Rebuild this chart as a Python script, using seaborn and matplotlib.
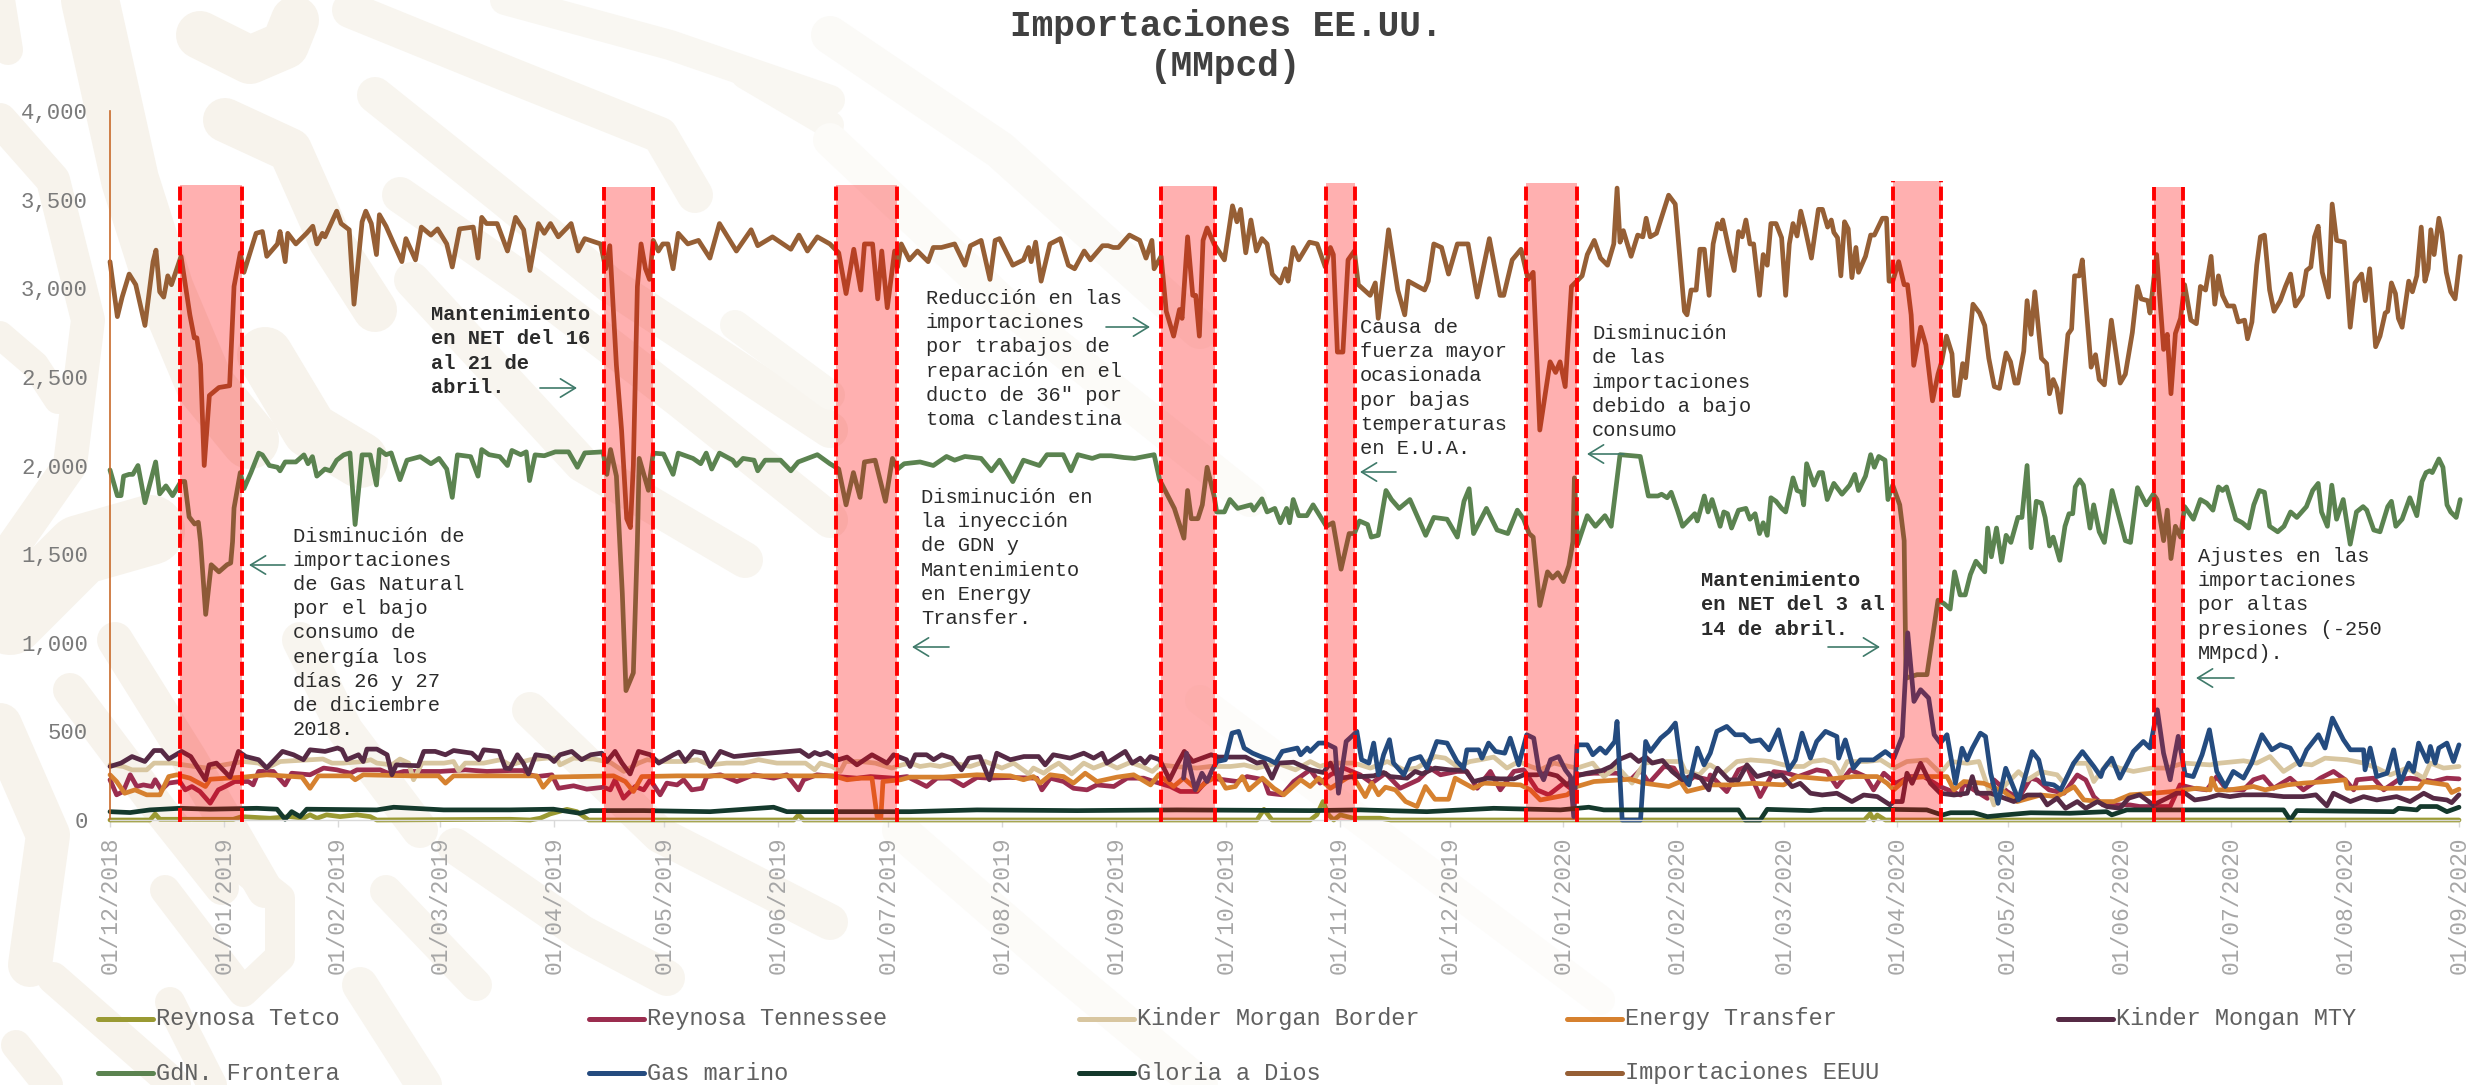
import matplotlib
matplotlib.use('Agg')
import numpy as np
import pandas as pd
import matplotlib.pyplot as plt
import seaborn as sns
from matplotlib.lines import Line2D

W, H = 2473, 1085
START = pd.Timestamp('2018-12-01')

# (days since 01/12/2018, MMpcd)
imports = [(0,3150),(2,2840),(3.3,2950),(5.2,3080),(7,3020),(9.5,2790),(11.7,3150),(12.5,3215),(13.5,2980),(14.6,2950),(15.7,3070),(16.7,3020),(19.3,3180),(21.7,2850),(22.9,2720),(23.6,2720),(24.6,2570),(25.6,2000),(27,2395),(29.6,2440),(32.5,2450),(33.7,3010),(35.4,3200),(36.4,3090),(39.7,3310),(41.4,3320),(42.6,3180),(45.5,3250),(46.2,3320),(47.6,3150),(48.3,3310),(50.5,3250),(53.4,3310),(55.1,3350),(56.2,3250),(57.7,3310),(58.4,3290),(61.6,3435),(62.8,3365),(65,3330),(66.3,2910),(68.5,3375),(69.5,3435),(71,3365),(72.4,3190),(73.2,3415),(75,3350),(76.7,3270),(79.3,3150),(80.4,3280),(83,3160),(84.6,3345),(87.2,3300),(89,3335),(91.5,3250),(93,3120),(95,3335),(98.7,3345),(100,3170),(101,3400),(102.3,3365),(105.2,3365),(108,3210),(110.2,3400),(112.4,3330),(114.1,3100),(116.4,3365),(118,3310),(119.7,3365),(121.8,3290),(125.3,3365),(127.2,3210),(129,3280),(133.3,3250),(134.7,3110),(135.8,3240),(137.6,2565),(139,2200),(140.4,1700),(141.4,1650),(142.2,2000),(143.3,3010),(144.3,3250),(145.5,3110),(146.6,3050),(147.6,3270),(149,3210),(150.2,3250),(151.6,3250),(153,3110),(154.4,3310),(157,3250),(159.9,3270),(163,3170),(165.6,3365),(170.2,3210),(174.2,3330),(176,3240),(180,3290),(185,3220),(187.2,3300),(189.5,3210),(192.2,3290),(195.6,3250),
           (198,3200),(200,2970),(202.1,3220),(204,2990),(205,3250),(207.2,3250),(208.6,2940),(209.7,3210),(211.2,2890),(213.2,3210),(214,3120),(215,3250),(217.2,3160),(219.4,3210),(222.3,3150),(223.7,3230),(225.9,3230),(229.5,3250),(232.3,3130),(233.8,3240),(236.7,3270),(239.1,3050),(240.5,3270),(241.7,3280),(245.3,3130),(248.2,3160),(249.6,3230),(250.3,3150),(251.5,3260),(253,3040),(255.4,3250),(258.2,3280),(260.4,3130),(262.1,3110),(264.7,3210),(266.4,3160),(269.7,3240),(271.2,3240),(272.6,3230),(274,3230),(277,3300),(279.8,3270),(281.5,3170),(283.1,3270),(283.7,3110),(285.6,3180),(287,2870),(289,2730),(290.6,2880),(291.3,2830),(292.8,3290),(294.2,2960),(295,2960),(296,2730),(297,3270),(298.1,3340),(300,3250),(302.8,3160),(305,3465),(306.2,3375),(307.2,3445),(308.6,3200),(310,3385),(311.5,3210),(313,3280),(314.4,3250),(315.8,3080),(318,3030),(319.4,3110),(320.1,3040),(321.5,3230),(323,3160),(325.9,3260),(328,3250),(330.2,3120),(331.6,3230),(332.4,3190),(333.5,2640),(335,2640),(336.4,3160),(338.1,3210),(339.2,3020),(342.4,2960),(343.8,3030),(344.6,2830),(347.4,3330),(349.9,2990),(351.8,2850),(352.8,3040),(355.4,3010),(357.2,2990),(358.2,3040),(359.7,3250),(361.8,3230),(363.7,3080),(366.1,3250),(369,3250),(371.5,2950),(374.8,3280),(377.7,2960),(378.7,2960),(381,3160),(383.4,3220),(385.3,3050),(386.7,3090),(388.5,2200),(391.3,2585),(392.8,2525),(394,2585),(395.4,2445),(397.1,3010),(400,3070),(401.4,3190),(403.3,3270),(405,3170),(406.9,3130),(408.6,3250),(409.5,3565),(410.3,3260),(411.2,3325),(413.3,3180),(415.1,3300),(416.5,3290),(417.4,3395),
           (418.5,3290),(420.2,3310),(423.5,3525),(425.3,3475),(427.8,2870),(428.5,2850),(429.6,2990),(431,2990),(432,3220),(433.2,3220),(434.5,2960),(435.6,3250),(436.8,3365),(437.8,3335),(438.2,3385),(440,3210),(441.3,3100),(442.5,3320),(443.5,3290),(444.5,3385),(445.6,3250),(446.6,3250),(448.2,2960),(449.2,3190),(450.3,3130),(451.3,3365),(452.7,3365),(454.2,3285),(455.3,2960),(456.3,3250),(457.3,3365),(458.4,3295),(459.4,3435),(460.6,3335),(462.3,3170),(464.2,3445),(465.3,3445),(466.7,3345),(467.7,3385),(468.4,3315),(469.4,3285),(470.3,3070),(471.3,3375),(472.3,3335),(473.3,3060),(474.4,3230),(475.1,3090),(477,3180),(478.4,3300),(479.4,3300),(481.6,3395),(482.7,3395),(483.4,3040),(484.4,3040),(486,3150),(487.5,3020),(488.4,3020),(489.4,2850),(490.1,2565),(492,2780),(493.4,2680),(495.2,2365),(496.7,2515),(497.7,2585),(499,2730),(500.5,2630),(501.2,2395),(502.2,2395),(503.4,2575),(504.2,2495),(506.2,2910),(508,2860),(509.4,2790),(510.5,2605),(512,2445),(513.4,2435),(515.2,2635),(516.4,2585),(517.6,2465),(518.4,2465),(520,2645),(520.9,2930),(522,2740),(523,2980),(524.8,2605),(526.2,2575),(527,2405),(528,2485),(529,2435),(530,2300),(532,2740),(533,2770),(533.8,3070),(535.1,3070),(535.9,3160),(538.3,2555),(539.5,2625),(540.5,2485),(541.9,2455),(543.8,2820),(546.2,2465),(547.6,2515),(549.5,2750),(550.9,3010),(551.9,2940),(553.7,2930),(554.3,2860),(556.1,3190),(558,2655),(559,2740),(560,2405),(561.2,2745),(562.6,2830),(563.7,3020),(565.4,2820),(566.9,2800),(568,3010),(569.4,2990),(570.9,3180),(571.9,2910),(572.9,3070),(574,2960),(575.4,2900),(577.1,2900),(578.3,2810),(580,2820),(580.8,2715),(582,2810),(583.3,3130),(584.3,3290),(585.4,3300),(586.8,2990),(588,2870),(589.7,2930),(591.1,3010),(592.5,3080),(593.8,2900),(595.7,2960),(596.8,3100),(598,3120),(599,3290),(600,3350),(601.1,3090),(602.8,2950),(603.8,3475),(605,3270),(607.1,3260),(608.7,2780),(610,3030),(611.8,3080),(612.8,2930),(614,3110),(615.6,2670),(616.8,2730),(618.2,2860),(618.9,2870),(619.9,3030),(621,2970),(621.8,2830),(622.8,2780),(624.6,3040),(625.6,2980),(626.8,3070),(628,3345),(629,3040),(629.9,3110),(630.6,3330),(631.5,3190),(632.8,3395),(633.6,3315),(634.8,3090),(636,2980),(637.2,2940),(638.6,3180)]

frontera = [(0,1975),(2,1830),(3,1830),(3.7,1940),(5.2,1950),(6.2,1950),(7.6,2000),(9.5,1790),(12.4,2020),(13.5,1840),(15.2,1885),(17,1830),(19.3,1910),(20.3,1910),(21.5,1710),(23,1670),(24,1680),(24.6,1570),(26,1160),(27.5,1440),(29.6,1400),(31.8,1440),(32.8,1450),(33.3,1570),(33.7,1760),(35.4,1960),(36.4,1870),(38.3,1960),(40.4,2070),(41.4,2060),(43.3,2000),(45.5,1990),(46.2,1970),(47.6,2020),(50.5,2020),(52.7,2060),(53.8,2010),(55,2050),(56.2,1940),(58.4,1980),(59.9,1970),(61.6,2030),(63.5,2060),(65.2,2071),(66.6,1667),(68.5,2060),(70.7,2060),(72.4,1890),(73.2,2090),(75,2061),(76.4,2071),(78.8,1920),(80.7,2030),(84.3,2050),(87.2,2010),(89.4,2040),(91.5,1980),(93,1820),(94.4,2060),(98,2050),(100,1940),(101,2090),(103,2061),(105.9,2050),(108,2000),(109.2,2085),(111.6,2061),(113.1,2077),(114,1915),(115.5,2060),(118,2055),(121,2077),(124.6,2077),(127,1990),(129,2071),(134,2077),(135,1950),(136,2090),(137.6,1940),(139.2,1280),(140.2,730),(142.2,830),(143.3,1570),(143.8,2040),(146.3,1860),(147.6,2070),(150.4,2065),(153,1950),(154.4,2070),(158.4,2040),(160.5,2010),(162,2070),(163.5,1980),(165.6,2070),(169.2,2030),(170.2,2000),(172,2040),(175,2030),(176,1970),(178,2030),(182.2,2030),(185,1970),(187,2020),(192.2,2061),(195.6,2010),
            (198,1980),(200,1778),(202,1960),(203.8,1820),(205,2020),(207.9,2030),(210.7,1798),(212.6,2040),(214,1980),(215.8,2010),(220.1,2020),(223.7,2000),(227.3,2051),(229.5,2030),(232.3,2051),(236.7,2040),(239.5,1970),(241.7,2030),(245.3,1909),(248.2,2030),(252.5,2000),(254.6,2061),(259,2061),(261.1,1970),(263,2061),(266.9,2040),(269,2055),(272,2055),(275.5,2045),(278.4,2040),(283.7,2061),(285.2,1919),(289.2,1758),(291.8,1590),(292.8,1859),(293.8,1700),(295.6,1700),(296.8,1778),(298.1,1990),(300,1828),(300.7,1738),(302.8,1738),(304.3,1808),(306.4,1758),(310,1778),(310.8,1748),(313,1812),(314.4,1738),(316.5,1758),(318,1677),(319.7,1758),(320.5,1677),(321.5,1808),(323,1717),(325.2,1717),(326.9,1778),(328.7,1717),(330.5,1657),(332.3,1677),(334.5,1415),(336.7,1616),(338.1,1616),(339.5,1687),(341.7,1667),(342.7,1596),(344.6,1606),(346.7,1859),(348.2,1808),(350.3,1758),(353.2,1808),(357.5,1606),(359.7,1707),(363.3,1697),(366.1,1596),(367.9,1798),(369.3,1869),(370.5,1616),(374,1758),(376.9,1636),(379.8,1616),(382.4,1748),(384.1,1697),(385.6,1616),(386.7,1596),(388.5,1210),(390.6,1400),(392,1365),(393.4,1395),(394.9,1345),(396.4,1435),(397.5,1570),(397.9,1930),(398.8,1556),(401.4,1717),(403.6,1657),(406.2,1717),(407.9,1657),(410.3,2061),(415.8,2051),(418,1828),(420.6,1828),
            (421.6,1838),(423.1,1818),(424.2,1849),(425.9,1748),(427.3,1657),(430.6,1728),(431.3,1687),(433.2,1828),(434.2,1738),(435.3,1808),(437.5,1657),(438.5,1738),(439.5,1728),(440.6,1647),(442.5,1748),(444.5,1758),(445.6,1697),(447,1728),(448.2,1616),(449.2,1677),(450.3,1606),(451.3,1818),(452.7,1798),(454.2,1758),(455.3,1738),(457.3,1930),(458.4,1859),(459.6,1849),(460.2,1778),(461,2010),(463,1889),(464.4,1960),(465.3,1960),(466.6,1808),(468.4,1899),(470.6,1838),(472.7,1889),(474.1,1950),(475.1,1859),(477,1940),(478.4,2061),(479.4,1990),(480.6,2051),(482.3,2030),(483.1,1808),(484.4,1889),(486.3,1778),(487.5,1576),(488,800),(491,820),(493.7,820),(496.7,1240),(498.4,1220),(500,1190),(501.2,1400),(502.7,1270),(504.1,1270),(505.5,1385),(507,1460),(509.4,1400),(510.2,1647),(511.2,1485),(512.6,1647),(514,1455),(515.2,1606),(516.5,1566),(518.4,1707),(519.5,1707),(520.9,2000),(522,1536),(523.4,1798),(524.8,1788),(525.8,1707),(527,1546),(528,1596),(529.8,1465),(531.2,1657),(532.3,1728),(533.3,1728),(534,1879),(535.2,1919),(536.2,1889),(538,1647),(539,1778),(540.5,1626),(541.9,1566),(544,1859),(547.6,1576),(549,1566),(550.9,1875),(553.3,1778),(555.2,1838),(556.2,1808),(558,1576),(559,1748),(560,1475),(561.2,1657),(562.6,1596),(563.7,1768),(566.1,1697),(568,1808),(569.7,1788),(571.4,1748),(572.9,1879),(574,1859),(575.1,1879),(577.6,1697),(579.4,1677),(581.1,1647),(582.5,1778),(584,1859),(585.4,1849),(586.8,1657),(589,1626),(590.7,1657),(592.5,1738),(594.2,1707),(596.8,1768),(598.5,1859),(600,1899),(600.9,1738),(602.5,1657),(603.7,1889),(605,1697),(606.8,1808),(608.7,1556),(610.4,1738),(612.2,1768),(613.2,1748),(615.1,1636),(616.8,1626),(618.9,1768),(619.9,1798),(621.1,1657),(622.8,1697),(624.9,1818),(626.8,1717),(628.2,1909),(629.3,1960),(630.3,1970),(631,1960),(632.8,2037),(633.9,1990),(635,1778),(636,1738),(637.5,1707),(638.6,1808)]

kinder_mty = [(0,302),(3,321),(6,358),(9.5,330),(12,392),(14,392),(16,344),(19.5,387),(22,358),(24,293),(26,227),(27,311),(29,321),(32.7,242),(35,387),(37,358),(40.5,340),(42.7,293),(47,387),(50,368),(52.7,340),(54.5,396),(58.6,387),(62,406),(63.2,396),(64.5,340),(67.7,368),(69,330),(70,400),(72.7,400),(75.5,368),(76.8,255),(78,311),(84,306),(85.5,387),(88.6,387),(91.4,368),(93.6,392),(98.6,377),(100.5,340),(101.8,396),(106,387),(107.7,293),(109,290),(111,368),(112.6,321),(114,260),(116,368),(119.5,358),(121,330),(122.6,368),(125.8,387),(128.5,340),(131,368),(134,377),(135.4,330),(137.6,387),(139.5,321),(141.7,260),(144,387),(147.2,368),(149.5,321),(153.5,368),(155,383),(156.7,330),(159,387),(161.7,377),(163.5,302),(166.3,387),(170,358),(174.5,368),(181.7,381),(188,392),(190.4,358),(192,381),(193.5,368),(195.4,381),(198.5,340),(200.8,355),(203.5,311),(207.6,368),(211.7,321),(213.5,368),(217,340),(218,302),(219.4,368),(222.5,368),(224.4,340),(226.6,368),(229.4,349),(232,283),(234,349),(237,358),(239.6,227),(241.6,377),(245.3,340),(249,358),(253,358),(254.8,311),(257,368),(261.6,349),(265.3,377),(268,349),(270.3,377),(271.6,321),(276.6,387),(278.5,321),(280.7,349),(282,321),(283.5,358),(286,340),(288.7,227),(290.7,311),(292.7,387),(295,330),(297.5,349),(300,368),(302,355),(305.3,355),(309.4,355),(312.5,321),(314.4,330),(316.6,236),(318.4,321),(322.5,326),(327,283),(330.6,268),(332.5,321),(334.7,236),(339,245),(340.6,245),(344.3,249),(347,268),(348.8,245),(353.4,236),(355.6,274),(357.5,260),(361,293),(365,283),(369.3,279),(371.5,217),(375.2,236),(378.8,232),(382.5,232),(385.2,255),(388.8,255),(391.5,264),(394.3,249),(397,198),(399.7,249),(402.5,264),(406.5,279),(409,302),(411,340),(414.3,368),(416.5,330),(418.4,355),(420.2,321),(423,336),(425.6,274),(428.4,227),(431.5,255),(433.4,236),(435.6,170),(436,207),(438,292),(441,226),(443.7,226),(446,311),(448.7,245),(452,264),(453.7,245),(455.5,254),(458.3,188),(460.5,207),(463.3,151),(466.5,141),(470.5,151),(474.6,104),(477.8,141),(481.5,132),(485,85),(486,104),(488.3,104),(489.6,264),(491,207),(493.3,320),(496,207),(498.7,151),(502.4,141),(506,151),(507.4,245),(508.7,151),(512.4,151),(515,132),(518.7,104),(522.4,141),(526,141),(527.8,85),(530.5,123),(532.8,66),(536,104),(538.3,66),(541.5,104),(544,76),(547.6,66),(550,123),(553,142),(556.7,85),(560.4,123),(563,151),(565.4,151),(568,113),(571.3,123),(574.5,142),(577.6,132),(581,142),(587.6,142),(592.2,132),(597.6,132),(601,142),(604,80),(605.8,151),(610.4,104),(614,132),(617.6,113),(623,132),(626.7,104),(630.4,151),(633,123),(636.7,113),(638,98),(640,142)]

kinder_border = [(0,311),(3.6,302),(6,283),(10,283),(12,321),(17,321),(23,302),(26.4,293),(31,311),(36.4,330),(40.5,321),(42.7,293),(46.4,330),(58,344),(60.5,321),(63.6,321),(69,330),(71,340),(72.7,321),(76.8,311),(79,344),(81.4,321),(82.7,227),(85,321),(91,321),(93.6,330),(95,279),(96.8,321),(101.8,321),(106.4,340),(109,311),(114.5,340),(119,349),(121.7,349),(122.6,311),(126.3,349),(131.7,344),(136.3,325),(140,274),(144,321),(146.3,340),(150.8,330),(155.8,330),(160,340),(163.5,311),(168,321),(172.6,321),(176.7,340),(181.7,321),(189.5,321),(192,283),(193.5,321),(196.7,302),(199,274),(200.4,330),(204.5,330),(208.5,321),(213,293),(215.8,311),(218,321),(220.7,302),(223.5,311),(226.2,302),(229.8,321),(234.4,302),(238.5,330),(243,293),(246.2,321),(250.3,260),(251.6,293),(254.4,264),(256.2,293),(258.5,321),(262,260),(265.3,321),(268,293),(271.6,321),(274.4,293),(278,325),(281.2,302),(284,274),(286,311),(290,302),(296.2,293),(299.8,302),(305.3,302),(309,311),(312.5,293),(318,321),(323,283),(327,330),(329.7,302),(332.5,321),(338.8,321),(340.6,311),(343.4,293),(348,330),(352.5,283),(356,293),(361,358),(363.8,349),(367,302),(370.6,330),(373.4,340),(377,355),(380.6,293),(383.8,330),(387,302),(389.7,283),(393.4,321),(397.5,302),(399.7,293),(404,321),(407,245),(410.6,302),(414.7,208),(418,321),(422.5,330),(428,330),(429.2,274),(433,255),(435.6,311),(436,311),(439.6,264),(443.3,330),(447,339),(452.4,330),(456,311),(458.7,302),(461.5,302),(463.7,330),(467,339),(469.6,320),(471.5,254),(473.3,330),(478.7,330),(482.4,339),(486,292),(489.6,330),(495,339),(498.7,264),(501.4,330),(506,320),(509.2,330),(513.3,85),(516,189),(520,273),(522.4,226),(526,273),(530.5,255),(532.4,207),(535,320),(538.7,320),(540.5,217),(544.2,320),(547.6,292),(551.3,274),(556.3,293),(560.4,293),(565,321),(572.2,311),(574.9,321),(581.3,334),(584.9,321),(588.5,358),(592.2,274),(595.8,321),(599.9,311),(603.5,349),(609.5,340),(614,321),(617.6,293),(621.3,255),(625.8,293),(630.4,236),(632.2,321),(635.8,293),(640,302)]

reynosa_tenn = [(0,227),(1.8,142),(3.6,161),(5.5,255),(7.3,189),(9.1,198),(11.4,189),(12.3,227),(14,170),(15.9,208),(19,217),(20.5,170),(22.3,189),(24.5,161),(27.3,95),(29.5,170),(31.4,189),(34,217),(37.7,217),(39,198),(40.5,274),(44.5,274),(47.7,198),(49.5,264),(54.5,255),(58.2,293),(61.8,283),(65.5,264),(67.3,283),(73.6,283),(76.8,255),(80,274),(83.6,274),(90,274),(96.8,283),(102.7,274),(109,279),(112.6,279),(114.5,255),(116.3,245),(120.4,255),(122.2,179),(126.3,193),(129.9,174),(134.5,185),(136.3,170),(137.6,227),(139.9,123),(143.1,189),(145.4,170),(147.2,227),(149.9,142),(151.7,208),(154.5,198),(156.3,227),(158.5,170),(161.3,179),(162.6,245),(166.3,255),(170.8,217),(175.4,255),(180.8,236),(184.4,255),(187.6,170),(189,227),(192.6,255),(198.1,245),(203.5,236),(207.2,245),(213.5,236),(217.2,245),(222.5,189),(225.3,236),(228.9,236),(232.5,193),(236.2,240),(239.6,236),(245.3,240),(252.5,236),(253.9,170),(256.2,236),(259.8,217),(262.5,179),(266.2,170),(268.9,198),(273.5,189),(277.1,236),(281.6,236),(284.4,217),(288.9,189),(291.6,161),(296.2,161),(299.4,236),(303.5,227),(307.1,217),(309.8,245),(314.4,227),(315.7,151),(319.4,142),(322.5,217),(327,283),(329.7,208),(332.5,255),(336.1,293),(340.6,255),(343.8,208),(347.5,264),(351.5,179),(356.5,227),(359.7,293),(362.5,255),(367,274),(369.7,274),(372.5,179),(376.1,274),(378.8,170),(382.5,274),(385.2,283),(388.8,170),(392,142),(396.1,208),(397.9,179),(399.7,255),(404.3,264),(410.6,264),(414.3,227),(417,283),(419.3,208),(423.4,302),(426.1,293),(428.8,198),(431.6,245),(435.6,227),(436,254),(440.5,160),(443.7,283),(446,302),(449.6,132),(453.3,273),(457,264),(460,245),(465,283),(467.8,273),(470.5,188),(474.2,283),(478.3,245),(480.5,170),(483.3,264),(486.5,207),(490.5,245),(494.2,245),(498.7,188),(504.2,141),(505,207),(511.5,122),(513.3,226),(516.9,160),(520,122),(523.3,236),(525.1,226),(528.3,170),(532.4,151),(536,254),(538.3,226),(540.5,132),(543,85),(550.4,85),(553,76),(556.7,76),(561.3,76),(564,198),(567.6,179),(571.3,170),(574,245),(576.7,170),(581.3,170),(584,227),(586.7,245),(589.5,179),(594,236),(597.6,170),(602.2,236),(605.8,274),(609,227),(611.3,170),(612.2,227),(616.7,236),(619.5,170),(623.5,227),(626.7,236),(630.4,227),(633,217),(636.7,236),(640,232)]

energy_transfer = [(0,255),(1.8,217),(4,151),(6.8,170),(10,142),(13.6,142),(16,245),(18.2,255),(21.8,236),(26,189),(27.3,230),(36.4,242),(42.7,255),(52.3,242),(54.5,179),(56.8,249),(65.5,249),(66.8,227),(69,255),(81.8,249),(89.5,249),(91.4,208),(93.6,249),(109,249),(116.3,249),(118,185),(120.4,242),(137.2,249),(140.4,217),(142.6,161),(144.9,245),(154.5,249),(172.6,249),(190.8,249),(197.2,249),(200.8,227),(204.5,236),(207.6,236),(209,19),(210,4),(210.6,217),(215.4,227),(218,242),(227,242),(236.2,255),(245.3,249),(248.9,227),(251.6,245),(253.5,208),(256.2,255),(259.8,245),(262.5,208),(265.7,264),(268.9,217),(274.4,242),(278.9,255),(283.5,198),(285.7,255),(289.8,189),(292.5,236),(296.2,170),(298.9,217),(302,249),(304,179),(306.6,189),(308.5,245),(310.3,170),(314,236),(317.1,179),(319.8,142),(324.4,227),(327,189),(329.3,236),(332.5,179),(338.4,255),(342,132),(343.8,208),(345.6,142),(347.5,185),(350.2,170),(353,104),(356.1,76),(358.4,189),(361,117),(364.7,117),(366.5,236),(371.5,179),(374.3,208),(384.3,198),(387,170),(389.7,113),(397,142),(399.7,189),(404.3,217),(414.3,230),(417.9,208),(424.7,189),(427.9,217),(429.7,161),(435.2,189),(436,198),(441.5,198),(447.8,207),(456,198),(459.6,245),(467.8,230),(475.1,245),(481.5,245),(484.2,207),(486,170),(489.6,236),(495,245),(500.5,245),(502.4,170),(505.1,217),(510.5,207),(516,160),(519.6,104),(526,141),(530.5,132),(535.1,188),(537.8,113),(542.3,104),(546,104),(550.4,142),(556.7,151),(562.2,161),(568.5,179),(572.2,170),(572.6,236),(574,170),(577.6,170),(584,189),(587.2,170),(593.1,198),(597.6,208),(604,217),(609,227),(609.5,179),(617.6,185),(619,179),(629,179),(630.4,217),(636.7,198),(638,155),(640,174)]

gas_marino = [(292.5,236),(293.3,377),(295.7,170),(297.5,264),(298.9,217),(300.3,283),(301.6,330),(303.9,340),(305.7,490),(307.5,500),(309,406),(311.3,377),(313.5,358),(315.8,340),(317.5,321),(319.4,387),(323.5,406),(324.4,368),(326.2,406),(327,387),(329.3,434),(331.1,434),(333.8,406),(334.7,151),(336.8,443),(338.8,481),(339.7,500),(341,340),(343,321),(344.3,434),(345.6,255),(347,368),(348.6,453),(349.7,321),(352.5,255),(354.3,340),(357,358),(358.8,293),(361.5,443),(364.3,434),(367,330),(368.8,293),(369.7,396),(372.9,396),(373.8,349),(375.6,434),(377.5,387),(380,377),(381.5,462),(383.8,311),(386,481),(387.9,462),(389.3,283),(390.6,227),(392.5,340),(394.7,358),(396.5,283),(397.9,245),(398.8,19),(399.7,424),(402.5,424),(404,368),(406,406),(407.5,377),(410,443),(410.6,556),(412,0),(417,0),(418.4,443),(419.7,387),(422.5,462),(424.7,500),(426.5,547),(428.4,255),(430.2,198),(432.5,406),(434.3,311),(436,377),(437.8,500),(440.5,528),(442.8,481),(445.1,481),(447,443),(449.6,452),(452,396),(454.6,509),(457.4,283),(459.2,339),(461,490),(463.3,349),(465,443),(467.4,500),(470.5,471),(471,349),(472.8,452),(475,292),(476.9,339),(480.5,339),(483.7,386),(486,349),(488.3,471),(489.8,1056),(491.5,669),(493.3,735),(495.5,688),(497,481),(498.7,434),(500.5,481),(502.8,207),(504.6,405),(506,339),(507.4,405),(509.6,490),(511,471),(512.4,264),(514.4,94),(516.5,292),(520,113),(523.7,386),(525.5,339),(527,207),(529.6,198),(531.5,170),(533.7,264),(535,320),(537.4,386),(540.5,302),(542.4,245),(543,283),(545.4,349),(547.6,236),(551.3,387),(554,443),(555.8,406),(557.8,622),(559.5,377),(561.3,227),(563.5,472),(565.4,255),(567.6,245),(570,368),(572,509),(574,274),(576.3,189),(578.5,274),(581.3,236),(583.5,321),(586.3,481),(589,396),(591.3,425),(594,406),(596.7,311),(598.5,396),(601.7,481),(603.5,406),(605.5,575),(608.5,453),(610.4,396),(614,396),(614.4,283),(615.8,406),(617.6,245),(620.4,264),(622.2,396),(624,208),(626.3,321),(627.6,274),(629,434),(631.3,330),(632.2,415),(633.5,321),(634.5,406),(636.7,434),(638.5,330),(640,424)]

gloria = [(0,47),(5.5,42),(10.9,57),(19,66),(27.3,61),(40,66),(45.5,61),(47.7,4),(49.5,47),(51.8,19),(53.6,61),(72.7,57),(77.3,72),(90.9,57),(109,57),(120.8,61),(128,38),(130.8,53),(145.4,53),(163.5,47),(180.8,72),(184.4,47),(218,47),(236.2,57),(263.5,53),(290.7,57),(327,53),(340.6,57),(358.8,47),(377,66),(395.2,57),(402.9,72),(407,57),(436,57),(443.7,57),(445.5,0),(449.6,0),(451.5,60),(463.3,53),(466.9,60),(485.5,60),(495,57),(499.2,28),(501.5,41),(507.8,41),(511.5,19),(516,28),(523.3,41),(534,38),(544,47),(545.4,29),(549.5,57),(592.2,57),(594,0),(595.8,53),(622.2,47),(623.5,66),(628.5,57),(629.5,76),(634,76),(636.7,47),(640,72)]

reynosa_tetco = [(0,0),(10.9,0),(12.3,34),(13.6,4),(33.6,4),(35.9,19),(43.6,10),(49,19),(52.7,10),(54.5,29),(56.4,10),(59,29),(62.7,19),(67.3,29),(70.9,19),(72.7,0),(109,4),(114.5,0),(117.2,10),(119.9,34),(124.5,60),(127.2,47),(130.4,0),(186.3,0),(187.6,29),(189,0),(218,0),(312.5,0),(314.4,60),(316.6,0),(327,0),(328.8,29),(330.5,104),(332,29),(333.4,0),(335.2,29),(338.8,10),(346.1,10),(349,0),(478,0),(479.6,36),(480.5,0),(481.5,28),(483.7,0),(640,0)]

series_names = ['Reynosa Tetco', 'Reynosa Tennessee', 'Kinder Morgan Border', 'Energy Transfer', 'Kinder Mongan MTY',
                'GdN. Frontera', 'Gas marino', 'Gloria a Dios', 'Importaciones EEUU']
series_data = [reynosa_tetco, reynosa_tenn, kinder_border, energy_transfer, kinder_mty,
               frontera, gas_marino, gloria, imports]
series_colors = ['#9a9a33', '#9b2d4f', '#d8c6a0', '#d6812f', '#562a45', '#5b8350', '#244b7f', '#14392c', '#965f35']

band_start = [19.1, 134.7, 197.9, 286.4, 331.3, 385.7, 485.8, 557.0]
band_end = [36.0, 147.9, 214.5, 301.1, 339.1, 399.7, 498.9, 564.9]
band_top = [3582, 3571, 3582, 3577, 3594, 3594, 3605, 3571]

y_ticks = [0, 500, 1000, 1500, 2000, 2500, 3000, 3500, 4000]
y_labels = ['0', '500', '1,000', '1,500', '2,000', '2,500', '3,000', '3,500', '4,000']
month_ticks = pd.date_range('2018-12-01', '2020-09-01', freq='MS')
month_labels = [d.strftime('%d/%m/%Y') for d in month_ticks]


def to_date(days):
    return START + pd.to_timedelta(np.array(days), unit='D')


sns.set_theme(style='white')
plt.rcParams['font.family'] = ['Liberation Mono', 'DejaVu Sans Mono']

fig = plt.figure(figsize=(W / 100, H / 100), dpi=100, facecolor='white')

# watermark behind the chart, pixel coordinates of the page
bg = fig.add_axes([0, 0, 1, 1], zorder=0)
bg.set_xlim(0, W)
bg.set_ylim(H, 0)
bg.axis('off')
strokes = [
    ([(90, 0), (130, 180), (165, 290), (205, 385), (250, 440)], 58, '#f7f3ec'),
    ([(0, 0), (8, 50)], 30, '#f7f3ec'),
    ([(200, 35), (250, 60), (285, 45), (295, 20)], 48, '#f7f3ec'),
    ([(225, 120), (290, 150), (330, 240), (375, 310)], 44, '#f7f3ec'),
    ([(265, 355), (310, 430), (360, 460)], 56, '#f7f3ec'),
    ([(350, 10), (510, 75), (660, 135), (695, 195)], 36, '#f8f5ef'),
    ([(505, 0), (670, 45), (830, 100)], 30, '#f9f7f2'),
    ([(375, 95), (500, 195), (610, 285), (830, 430)], 36, '#f8f5ef'),
    ([(400, 195), (530, 285), (680, 400), (830, 520)], 36, '#f8f5ef'),
    ([(412, 280), (582, 464), (745, 560)], 36, '#f8f5ef'),
    ([(745, 75), (830, 125)], 28, '#f9f7f2'),
    ([(735, 325), (830, 395)], 30, '#f9f7f2'),
    ([(0, 120), (53, 180), (88, 320), (70, 465), (0, 565)], 34, '#f7f3ec'),
    ([(0, 335), (35, 365), (58, 400)], 28, '#f7f3ec'),
    ([(10, 620), (80, 550), (150, 530)], 70, '#f7f3ec'),
    ([(0, 725), (48, 835), (30, 965)], 44, '#f7f3ec'),
    ([(70, 690), (160, 810), (222, 888)], 34, '#f7f3ec'),
    ([(115, 640), (190, 760), (265, 890)], 36, '#f7f3ec'),
    ([(200, 835), (280, 898), (280, 957), (243, 992), (165, 890)], 30, '#f7f3ec'),
    ([(386, 891), (476, 985)], 32, '#f8f5ef'),
    ([(455, 846), (582, 933), (667, 978)], 36, '#f8f5ef'),
    ([(530, 710), (660, 835), (830, 922)], 36, '#f8f5ef'),
    ([(53, 978), (175, 1085)], 32, '#f7f3ec'),
    ([(170, 1002), (212, 1085)], 30, '#f7f3ec'),
    ([(360, 985), (424, 1085)], 36, '#f8f5ef'),
    ([(16, 1045), (48, 1085)], 30, '#f7f3ec'),
    ([(300, 640), (345, 730), (420, 830)], 36, '#f8f5ef'),
    ([(830, 35), (1000, 150), (1200, 330)], 38, '#fbfaf7'),
    ([(830, 140), (1000, 300), (1250, 500)], 34, '#fcfbf8'),
    ([(900, 830), (1050, 960), (1200, 1085)], 36, '#fcfbf8'),
    ([(1200, 700), (1400, 850), (1600, 1000)], 30, '#fdfcfa'),
]
for pts, width, col in strokes:
    xs, ys = zip(*pts)
    bg.plot(xs, ys, color=col, lw=width * 0.72, solid_capstyle='round', solid_joinstyle='round')

ax = fig.add_axes([110 / W, 1 - 820 / H, (2459 - 110) / W, (820 - 111) / H], zorder=1)
ax.patch.set_alpha(0)

for name, data, col in zip(series_names, series_data, series_colors):
    days, vals = zip(*data)
    days = np.array(days)
    if name in ('GdN. Frontera', 'Importaciones EEUU'):
        days = days * 3.68 / 3.67  # these two were read at 3.68 px/day
    sns.lineplot(x=to_date(days), y=np.array(vals), color=col, linewidth=3.4, ax=ax,
                 estimator=None, clip_on=False, zorder=2)

for s, e, top in zip(band_start, band_end, band_top):
    ax.fill_between(to_date([s, e]), 0, top, color='#ff0000', alpha=0.31, linewidth=0, zorder=3, clip_on=False)
    for d in (s, e):
        ax.plot(to_date([d, d]), [-12, top], color='#ff0000', lw=2.8, dashes=(3.6, 1.1), zorder=4, clip_on=False)

ax.set_xlim(START, pd.Timestamp('2020-09-01'))
ax.set_ylim(0, 4000)
ax.set_xlabel('')
ax.set_ylabel('')
ax.set_yticks(y_ticks)
ax.set_yticklabels(y_labels, fontsize=16, color='#7a7a7a')
ax.set_xticks(month_ticks)
ax.set_xticklabels(month_labels, rotation=90, fontsize=16.6, color='#a6a6a6')
ax.tick_params(axis='y', length=0, pad=16)
ax.tick_params(axis='x', length=5, width=1, color='#d9d9d9', pad=7, bottom=True)
for side in ('top', 'right'):
    ax.spines[side].set_visible(False)
ax.spines['left'].set_color('#c8692a')
ax.spines['left'].set_linewidth(1.2)
ax.spines['bottom'].set_color('#d9d9d9')
ax.spines['bottom'].set_linewidth(1)

# texts, arrows and legend on top, pixel coordinates of the page
over = fig.add_axes([0, 0, 1, 1], zorder=5)
over.set_xlim(0, W)
over.set_ylim(H, 0)
over.axis('off')

over.text(1226, 26, 'Importaciones EE.UU.', ha='center', va='center', fontsize=26, fontweight='bold', color='#404040')
over.text(1226, 67, '(MMpcd)', ha='center', va='center', fontsize=26, fontweight='bold', color='#404040')

notes = [
    (431, 351, 'Mantenimiento\nen NET del 16\nal 21 de\nabril.', 'bold'),
    (293, 633, 'Disminución de\nimportaciones\nde Gas Natural\npor el bajo\nconsumo de\nenergía los\ndías 26 y 27\nde diciembre\n2018.', 'normal'),
    (926, 359, 'Reducción en las\nimportaciones\npor trabajos de\nreparación en el\nducto de 36" por\ntoma clandestina', 'normal'),
    (921, 558, 'Disminución en\nla inyección\nde GDN y\nMantenimiento\nen Energy\nTransfer.', 'normal'),
    (1360, 388, 'Causa de\nfuerza mayor\nocasionada\npor bajas\ntemperaturas\nen E.U.A.', 'normal'),
    (1592, 382, 'Disminución\nde las\nimportaciones\ndebido a bajo\nconsumo', 'normal'),
    (1701, 605, 'Mantenimiento\nen NET del 3 al\n14 de abril.', 'bold'),
    (2198, 605, 'Ajustes en las\nimportaciones\npor altas\npresiones (-250\nMMpcd).', 'normal'),
]
for x, y, txt, weight in notes:
    over.text(x, y, txt, ha='left', va='center', fontsize=14.7, fontweight=weight, color='#2b2b2b', linespacing=1.34)

arrows = [(540, 388, 577, 388), (285, 565, 249, 565), (1106, 327, 1150, 327), (949, 647, 912, 647),
          (1396, 472, 1360, 472), (1624, 454, 1587, 454), (1828, 647, 1880, 647), (2234, 678, 2196, 678)]
for x0, y0, x1, y1 in arrows:
    over.annotate('', xy=(x1, y1), xytext=(x0, y0),
                  arrowprops=dict(arrowstyle='->,head_length=0.9,head_width=0.55', color='#3f7a6a', lw=1.2,
                                  shrinkA=0, shrinkB=0))

legend_x = [98, 589, 1079, 1567, 2058]
legend_y = [1019, 1073]
for i, (name, col) in enumerate(zip(series_names, series_colors)):
    lx = legend_x[i % 5]
    ly = legend_y[i // 5]
    over.add_line(Line2D([lx, lx + 55], [ly, ly], color=col, lw=3.6, solid_capstyle='round'))
    over.text(lx + 58, ly, name, ha='left', va='center', fontsize=17, color='#606060')

plt.savefig('out.png', dpi=100)
